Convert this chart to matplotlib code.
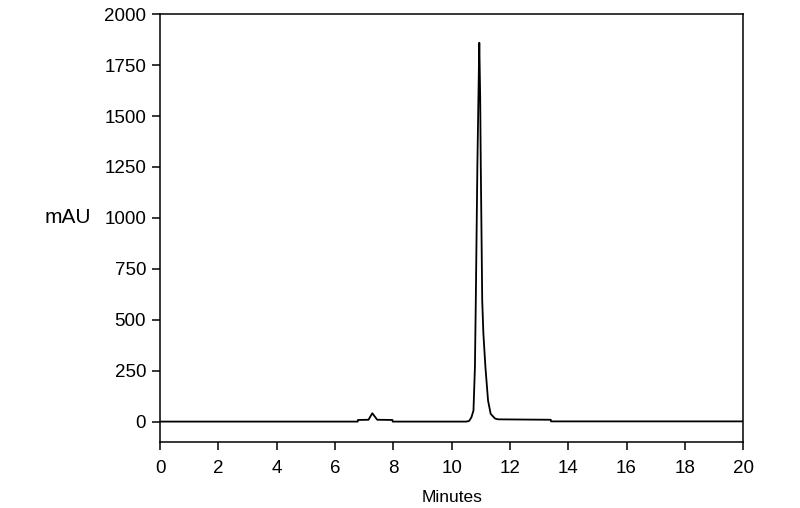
import matplotlib
matplotlib.use('Agg')
import matplotlib.pyplot as plt

plt.rcParams['font.family'] = ['Liberation Sans', 'DejaVu Sans']

# chromatogram trace (minutes, mAU)
minutes = [0, 6.78, 6.79, 7.15, 7.28, 7.45, 7.97, 7.98,
           10.5, 10.6, 10.68, 10.75, 10.80, 10.83, 10.885, 10.92, 10.95,
           10.98, 11.0, 11.05, 11.09, 11.16, 11.25, 11.34, 11.49, 11.6,
           13.40, 13.41, 20]
mau = [0, 0, 8, 9, 41, 9, 8, 0,
       0, 3, 21, 54, 267, 595, 1268, 1594, 1860,
       1594, 1268, 595, 432, 267, 103, 38, 15, 11,
       9, 1, 1]

xticks = list(range(0, 21, 2))
yticks = [0, 250, 500, 750, 1000, 1250, 1500, 1750, 2000]

fig = plt.figure(figsize=(8, 5.08), dpi=100)
ax = fig.add_axes([0.2, 0.13, 0.729, 0.842])

ax.plot(minutes, mau, color='black', lw=1.3)

ax.set_xlim(0, 20)
ax.set_ylim(-100, 2000)
ax.set_xticks(xticks)
ax.set_yticks(yticks)
ax.tick_params(direction='out', length=6, width=1.1, labelsize=13.5)
ax.tick_params(axis='x', pad=7)
ax.tick_params(axis='y', pad=4)
for s in ax.spines.values():
    s.set_linewidth(1.1)

ax.set_xlabel('Minutes', fontsize=12.5, labelpad=9)
ax.set_ylabel('mAU', fontsize=15, rotation=0, ha='center', va='center')
ax.yaxis.set_label_coords(-0.158, 0.524)

fig.savefig('out.png', dpi=100)
